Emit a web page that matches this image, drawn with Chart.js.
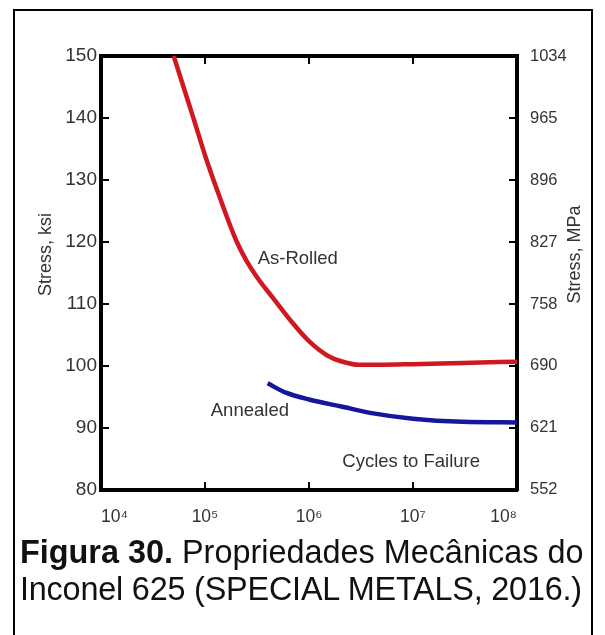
<!DOCTYPE html>
<html>
<head>
<meta charset="utf-8">
<script src="https://cdn.jsdelivr.net/npm/chart.js@4.4.1/dist/chart.umd.min.js"></script>
<style>
    html, body { margin: 0; padding: 0; background: #fff; }
    body { width: 605px; height: 635px; position: relative; overflow: hidden; font-family: 'Liberation Sans', Arial, sans-serif; }
    #moldura { position: absolute; left: 13px; top: 9px; width: 576px; height: 660px; border: 2px solid #000; }
    #area { position: absolute; left: 0; top: 0; width: 605px; height: 540px; }
    #legenda { position: absolute; left: 20px; top: 534px; font-size: 32.4px; line-height: 37px; color: #111; white-space: nowrap; }
    #legenda .linha2 { letter-spacing: -0.2px; }
</style>
</head>
<body>
<div id="moldura"></div>
<div id="area"><canvas id="grafico"></canvas></div>
<div id="legenda"><b>Figura 30.</b> Propriedades Mecânicas do<br><span class="linha2">Inconel 625 (SPECIAL METALS, 2016.)</span></div>
<script>
// ciclos ate a falha e tensao (ksi)
const ciclosLaminado = [5.0e4, 6.0e4, 7.7e4, 1.0e5, 1.4e5, 2.0e5, 2.5e5, 3.2e5, 4.5e5, 7.0e5, 1.0e6, 1.5e6, 2.2e6, 3.0e6, 5.0e6, 1.0e7, 3.0e7, 1.0e8];
const tensaoLaminado = [150, 145.8, 140.1, 134.0, 127.0, 120.2, 117.0, 114.2, 111.0, 106.9, 104.0, 101.7, 100.6, 100.2, 100.2, 100.3, 100.5, 100.7];

const ciclosRecozido = [4.0e5, 6.0e5, 1.0e6, 2.0e6, 4.0e6, 1.0e7, 3.0e7, 1.0e8];
const tensaoRecozido = [97.2, 95.7, 94.6, 93.5, 92.4, 91.5, 91.0, 90.9];

const ticksCiclos = [1e4, 1e5, 1e6, 1e7, 1e8];
const rotulosCiclos = ['10\u2074', '10\u2075', '10\u2076', '10\u2077', '10\u2078'];
const ticksKsi = [80, 90, 100, 110, 120, 130, 140, 150];
const ticksMpa = [552, 621, 690, 758, 827, 896, 965, 1034];

const KSI_MPA = 6.894757;

const textos = [
    { texto: 'As-Rolled', ciclos: 7.8e5, ksi: 117.2 },
    { texto: 'Annealed', ciclos: 2.7e5, ksi: 92.8 },
    { texto: 'Cycles to Failure', ciclos: 9.6e6, ksi: 84.6 }
];

const FONTE = "'Liberation Sans', Arial, sans-serif";

function pontos(xs, ys) { return xs.map((x, i) => ({ x: x, y: ys[i] })); }

function textoVertical(ctx, texto, x, y) {
    ctx.save();
    ctx.translate(x, y);
    ctx.rotate(-Math.PI / 2);
    ctx.fillText(texto, 0, 0);
    ctx.restore();
}

const textosPlugin = {
    id: 'textos',
    afterDatasetsDraw(chart) {
        const ctx = chart.ctx;
        const sx = chart.scales.x, sy = chart.scales.y;
        const area = chart.chartArea;
        ctx.save();
        ctx.fillStyle = '#333';
        ctx.textAlign = 'center';
        ctx.textBaseline = 'middle';
        ctx.font = '18.5px ' + FONTE;
        textos.forEach(t => {
            ctx.fillText(t.texto, sx.getPixelForValue(t.ciclos), sy.getPixelForValue(t.ksi));
        });
        // titulos dos eixos, lidos de baixo para cima
        ctx.font = '18px ' + FONTE;
        const yTitulo = sy.getPixelForValue(118);
        textoVertical(ctx, 'Stress, ksi', area.left - 55, yTitulo);
        textoVertical(ctx, 'Stress, MPa', area.right + 58, yTitulo);
        ctx.restore();
    }
};

const eixoPreto = { display: true, width: 4, color: '#000' };
const gradeDentro = { drawOnChartArea: false, tickLength: -8, lineWidth: 2, color: '#000' };

new Chart(document.getElementById('grafico'), {
    type: 'line',
    data: {
        datasets: [
            {
                label: 'As-Rolled',
                data: pontos(ciclosLaminado, tensaoLaminado),
                borderColor: '#d01820',
                borderWidth: 4.5,
                pointRadius: 0,
                cubicInterpolationMode: 'monotone',
                xAxisID: 'x', yAxisID: 'y'
            },
            {
                label: 'Annealed',
                data: pontos(ciclosRecozido, tensaoRecozido),
                borderColor: '#15159e',
                borderWidth: 4.5,
                pointRadius: 0,
                cubicInterpolationMode: 'monotone',
                xAxisID: 'x', yAxisID: 'y'
            }
        ]
    },
    options: {
        responsive: true,
        maintainAspectRatio: false,
        animation: false,
        layout: { padding: { top: 56, left: 0, right: 0, bottom: 0 } },
        plugins: { legend: { display: false }, tooltip: { enabled: false } },
        scales: {
            x: {
                type: 'logarithmic', position: 'bottom', min: 1e4, max: 1e8,
                afterBuildTicks: s => { s.ticks = ticksCiclos.map(v => ({ value: v })); },
                afterFit: s => { s.height = 50; },
                border: eixoPreto,
                grid: gradeDentro,
                ticks: { align: 'inner', padding: 25, color: '#333', font: { family: FONTE, size: 17.5 }, maxRotation: 0, autoSkip: false,
                    callback: (v, i) => rotulosCiclos[i] }
            },
            x2: {
                type: 'logarithmic', position: 'top', min: 1e4, max: 1e8,
                afterBuildTicks: s => { s.ticks = ticksCiclos.map(v => ({ value: v })); },
                afterFit: s => { s.height = 0; },
                border: eixoPreto,
                grid: gradeDentro,
                ticks: { display: false }
            },
            y: {
                type: 'linear', position: 'left', min: 80, max: 150,
                afterBuildTicks: s => { s.ticks = ticksKsi.map(v => ({ value: v })); },
                afterFit: s => { s.width = 101; },
                border: eixoPreto,
                grid: gradeDentro,
                ticks: { padding: 12, color: '#333', font: { family: FONTE, size: 19 } }
            },
            y2: {
                type: 'linear', position: 'right', min: 80 * KSI_MPA, max: 150 * KSI_MPA,
                afterBuildTicks: s => { s.ticks = ticksMpa.map(v => ({ value: v })); },
                afterFit: s => { s.width = 88; },
                border: eixoPreto,
                grid: gradeDentro,
                ticks: { padding: 21, color: '#333', font: { family: FONTE, size: 16.5 }, callback: v => String(v) }
            }
        }
    },
    plugins: [textosPlugin]
});
</script>
</body>
</html>
